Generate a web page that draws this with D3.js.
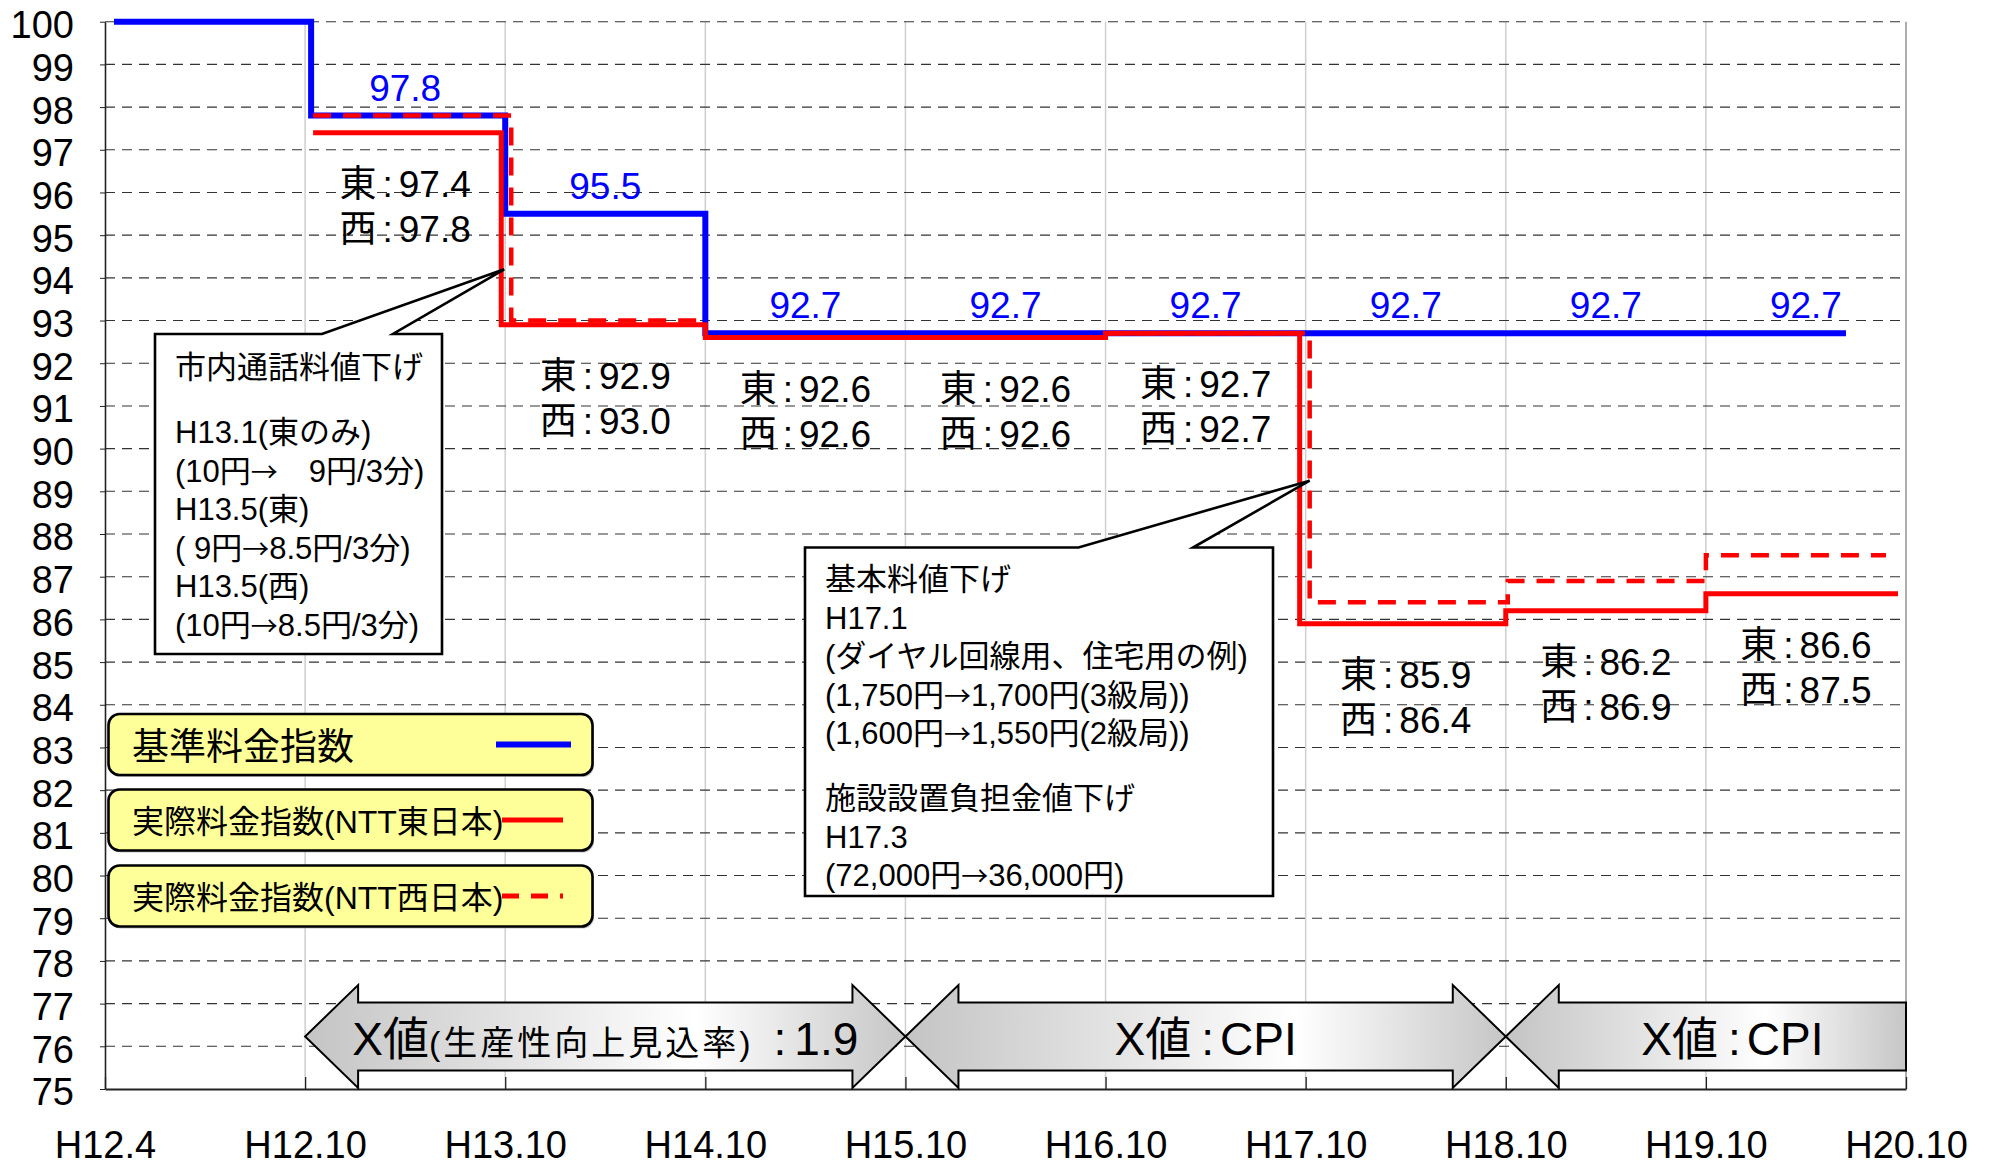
<!DOCTYPE html>
<html>
<head>
<meta charset="utf-8">
<script src="https://cdn.jsdelivr.net/npm/d3@7"></script>
<style>
  html, body { margin: 0; padding: 0; background: #fff; }
  svg text { font-family: "Liberation Sans", "Noto Sans CJK JP", sans-serif; white-space: pre; }
  svg text tspan.cjk { font-family: "Noto Sans CJK JP", sans-serif; }
</style>
</head>
<body>
<svg id="chart" width="1990" height="1169"></svg>
<script>
// ---- data ---------------------------------------------------------------
// category positions along the x axis (0..9)
const periods = ["H12.4", "H12.10", "H13.10", "H14.10", "H15.10", "H16.10", "H17.10", "H18.10", "H19.10", "H20.10"];
const yTicks = d3.range(75, 101);

// 基準料金指数: change points (category position) and index level from that point on
const baseAt    = [0.045, 1.03, 2.0, 3.0, 8.7];
const baseIndex = [100, 97.8, 95.5, 92.7, 92.7];

// 実際料金指数 (NTT東日本)
const eastAt    = [1.04, 1.98, 3.0, 5.0, 5.97, 7.0, 8.0, 8.96];
const eastIndex = [97.4, 92.9, 92.6, 92.7, 85.9, 86.2, 86.6, 86.6];

// 実際料金指数 (NTT西日本)
const westAt    = [1.04, 2.03, 3.0, 5.0, 6.02, 7.01, 8.0, 8.9];
const westIndex = [97.8, 93.0, 92.6, 92.7, 86.4, 86.9, 87.5, 87.5];

// 基準料金指数 value labels, one per period
const baseLabelPeriod = [1, 2, 3, 4, 5, 6, 7, 8];
const baseLabelValue  = [97.8, 95.5, 92.7, 92.7, 92.7, 92.7, 92.7, 92.7];

// 東 / 西 value pairs, one per period
const pairPeriod = [1, 2, 3, 4, 5, 6, 7, 8];
const eastLabel  = [97.4, 92.9, 92.6, 92.6, 92.7, 85.9, 86.2, 86.6];
const westLabel  = [97.8, 93.0, 92.6, 92.6, 92.7, 86.4, 86.9, 87.5];

// X値 regimes (from / to category position)
const regimeFrom = [1, 4, 7];
const regimeTo   = [4, 7, 9];

const legendNames = ["基準料金指数", "実際料金指数(NTT東日本)", "実際料金指数(NTT西日本)"];

const callLocal = ["市内通話料値下げ", "", "H13.1(東のみ)", "(10円→　9円/3分)", "H13.5(東)",
                   "( 9円→8.5円/3分)", "H13.5(西)", "(10円→8.5円/3分)"];
const callBasic = ["基本料値下げ", "H17.1", "(ダイヤル回線用、住宅用の例)", "(1,750円→1,700円(3級局))",
                   "(1,600円→1,550円(2級局))", "", "施設設置負担金値下げ", "H17.3", "(72,000円→36,000円)"];

// ---- scales ---------------------------------------------------------------
const svg = d3.select("#chart");
const x = d3.scaleLinear().domain([0, periods.length - 1]).range([105, 1906]);
const y = d3.scaleLinear().domain([75, 100]).range([1089, 21.7]);
const fmt = d3.format(".1f");
const BLUE = "#0000ff", RED = "#ff0000";

// ---- grid -------------------------------------------------------------------
svg.append("g").selectAll("line")
  .data(d3.range(1, periods.length - 1)).join("line")
  .attr("x1", d => x(d)).attr("x2", d => x(d))
  .attr("y1", y(100)).attr("y2", y(75))
  .attr("stroke", "#cfcfcf").attr("stroke-width", 1.5);

svg.append("g").selectAll("line")
  .data(yTicks.filter(v => v > 75)).join("line")
  .attr("x1", x(0)).attr("x2", x(periods.length - 1))
  .attr("y1", d => y(d)).attr("y2", d => y(d))
  .attr("stroke", "#333").attr("stroke-width", 1.1)
  .attr("stroke-dasharray", "10,7");

svg.append("line")
  .attr("x1", x(periods.length - 1)).attr("x2", x(periods.length - 1))
  .attr("y1", y(100)).attr("y2", y(75))
  .attr("stroke", "#777").attr("stroke-width", 1.2);

// ---- axes -------------------------------------------------------------------
const yAxis = svg.append("g")
  .attr("transform", `translate(${x(0)},0)`)
  .call(d3.axisLeft(y).tickValues(yTicks).tickFormat(d3.format("d"))
        .tickSizeInner(5).tickSizeOuter(0).tickPadding(26));
yAxis.attr("font-size", 38);
yAxis.select(".domain").attr("stroke", "#222").attr("stroke-width", 1.6);
yAxis.selectAll(".tick line").attr("stroke", "#222");
yAxis.selectAll(".tick text").attr("fill", "#000").attr("dy", "0.42em");

const xAxis = svg.append("g")
  .attr("transform", `translate(0,${y(75)})`)
  .call(d3.axisBottom(x).tickValues(d3.range(periods.length)).tickFormat(i => periods[i])
        .tickSizeInner(-12).tickSizeOuter(0).tickPadding(42));
xAxis.attr("font-size", 38);
xAxis.select(".domain").attr("stroke", "#222").attr("stroke-width", 2);
xAxis.selectAll(".tick line").attr("stroke", "#222").attr("stroke-width", 1.3);
xAxis.selectAll(".tick text").attr("fill", "#000");

// ---- X値 regime arrows ------------------------------------------------------------
const defs = svg.append("defs");
const grad = defs.append("linearGradient").attr("id", "arrowFill");
grad.append("stop").attr("offset", "0%").attr("stop-color", "#c4c4c4");
grad.append("stop").attr("offset", "65%").attr("stop-color", "#ffffff");
grad.append("stop").attr("offset", "100%").attr("stop-color", "#c6c6c6");

const arrowCy = 1036.5, headLen = 53, headHalf = 51.5, shaftHalf = 34;
regimeFrom.forEach((from, i) => {
  const x0 = x(from), x1 = x(regimeTo[i]);
  const rightHead = i < regimeFrom.length - 1;
  const pts = [[x0, arrowCy], [x0 + headLen, arrowCy - headHalf], [x0 + headLen, arrowCy - shaftHalf]];
  if (rightHead) {
    pts.push([x1 - headLen, arrowCy - shaftHalf], [x1 - headLen, arrowCy - headHalf], [x1, arrowCy],
             [x1 - headLen, arrowCy + headHalf], [x1 - headLen, arrowCy + shaftHalf]);
  } else {
    pts.push([x1, arrowCy - shaftHalf], [x1, arrowCy + shaftHalf]);
  }
  pts.push([x0 + headLen, arrowCy + shaftHalf], [x0 + headLen, arrowCy + headHalf]);
  svg.append("path")
    .attr("d", d3.line()(pts) + "Z")
    .attr("fill", "url(#arrowFill)").attr("stroke", "#000").attr("stroke-width", 2)
    .attr("stroke-linejoin", "miter");

  const cx = (x0 + headLen + x1 - (rightHead ? headLen : 0)) / 2;
  const t = svg.append("text").attr("x", cx).attr("y", 1055)
    .attr("text-anchor", "middle").attr("fill", "#000").attr("font-size", 46);
  if (i === 0) {
    t.append("tspan").text("X値");
    t.append("tspan").attr("font-size", 34).attr("letter-spacing", 3).text("(生産性向上見込率)");
    t.append("tspan").attr("dx", 20).text(":");
    t.append("tspan").attr("dx", 8).text("1.9");
  } else {
    t.append("tspan").text("X値");
    t.append("tspan").attr("dx", 10).text(":");
    t.append("tspan").attr("dx", 6).text("CPI");
  }
});

// ---- step lines ---------------------------------------------------------------
const zip = (a, b) => a.map((t, i) => [t, b[i]]);
const stepLine = d3.line().x(d => x(d[0])).y(d => y(d[1])).curve(d3.curveStepAfter);

svg.append("path").attr("d", stepLine(zip(baseAt, baseIndex)))
  .attr("fill", "none").attr("stroke", BLUE).attr("stroke-width", 6);
svg.append("path").attr("d", stepLine(zip(eastAt, eastIndex)))
  .attr("fill", "none").attr("stroke", RED).attr("stroke-width", 5);
svg.append("path").attr("d", stepLine(zip(westAt, westIndex)))
  .attr("fill", "none").attr("stroke", RED).attr("stroke-width", 4.5)
  .attr("stroke-dasharray", "18,12");

// ---- value labels ---------------------------------------------------------------
svg.append("g").selectAll("text")
  .data(baseLabelPeriod.map((p, i) => [p, baseLabelValue[i]])).join("text")
  .attr("x", d => x(d[0] + 0.5)).attr("y", d => y(d[1]) - 15)
  .attr("text-anchor", "middle").attr("font-size", 37).attr("fill", BLUE)
  .text(d => fmt(d[1]));

pairPeriod.forEach((p, i) => {
  const cx = x(p + 0.5), top = y(eastLabel[i]) + 64;
  [["東", eastLabel[i]], ["西", westLabel[i]]].forEach(([name, v], k) => {
    const t = svg.append("text").attr("x", cx).attr("y", top + k * 45)
      .attr("text-anchor", "middle").attr("font-size", 37).attr("fill", "#000");
    t.append("tspan").text(name);
    t.append("tspan").attr("dx", 6).text(":");
    t.append("tspan").attr("dx", 6).text(fmt(v));
  });
});

// ---- callouts ---------------------------------------------------------------
// arrows inside the callout text are set in the CJK face so they keep a full width
function writeRuns(textSel, s) {
  s.split(/(→)/).filter(r => r !== "").forEach(r => {
    const ts = textSel.append("tspan").text(r);
    if (r === "→") ts.attr("class", "cjk").attr("font-size", 27);
  });
}
function callout(box, baseL, baseR, tip, lines, firstBaseline) {
  const [l, t, r, b] = box;
  const pts = [[l, t], [baseL, t], tip, [baseR, t], [r, t], [r, b], [l, b]];
  svg.append("path").attr("d", d3.line()(pts) + "Z")
    .attr("fill", "#fff").attr("stroke", "#000").attr("stroke-width", 2.6)
    .attr("stroke-linejoin", "miter");
  let yy = firstBaseline;
  lines.forEach(s => {
    if (s === "") { yy += 26.5; return; }
    const tx = svg.append("text").attr("x", l + 20).attr("y", yy)
      .attr("font-size", 31).attr("fill", "#000");
    writeRuns(tx, s);
    yy += 38.5;
  });
}
callout([155, 334, 442, 654], 322, 393, [x(1.995), y(94.2)], callLocal, 378);
callout([805, 547.5, 1273, 896], 1078.5, 1193, [x(6.02), y(89.25)], callBasic, 590);

// ---- legend ---------------------------------------------------------------
const legendTop = [714, 789.5, 865.5];
const legendSizes = [37, 32, 32];
legendNames.forEach((name, i) => {
  const g = svg.append("g");
  g.append("rect").attr("x", 110).attr("y", legendTop[i] + 2).attr("width", 484).attr("height", 61)
    .attr("rx", 11).attr("fill", "#9a9a9a").attr("opacity", 0.6);
  g.append("rect").attr("x", 108.5).attr("y", legendTop[i]).attr("width", 484).attr("height", 61)
    .attr("rx", 11).attr("fill", "#ffff99").attr("stroke", "#000").attr("stroke-width", 2.6);
  g.append("text").attr("x", 132).attr("y", legendTop[i] + (i === 0 ? 46 : 43.5))
    .attr("font-size", legendSizes[i]).attr("fill", "#000").text(name);
  const ly = legendTop[i] + 30.5;
  const seg = g.append("line").attr("y1", ly).attr("y2", ly);
  if (i === 0) {
    seg.attr("x1", 496).attr("x2", 571).attr("stroke", BLUE).attr("stroke-width", 6);
  } else {
    seg.attr("x1", 502).attr("x2", 563).attr("stroke", RED).attr("stroke-width", 5);
    if (i === 2) seg.attr("stroke-dasharray", "17,12");
  }
});
</script>
</body>
</html>
